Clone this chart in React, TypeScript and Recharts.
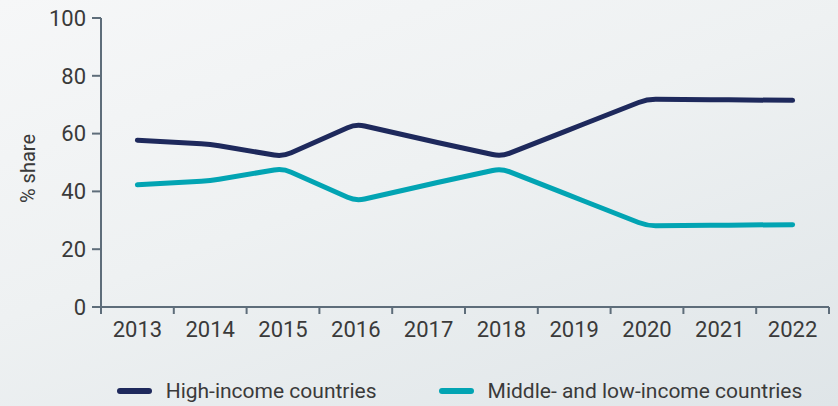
import React from 'react';
import { LineChart, Line, XAxis, YAxis, Legend } from 'recharts';

const years = ['2013', '2014', '2015', '2016', '2017', '2018', '2019', '2020', '2021', '2022'];
const highIncome = [57.7, 56.3, 52.1, 63.3, 57.6, 52.1, 62.0, 71.9, 71.7, 71.5];
const middleLowIncome = [42.3, 43.7, 47.9, 36.7, 42.4, 47.9, 38.0, 28.1, 28.3, 28.5];
const yTicks = [0, 20, 40, 60, 80, 100];
const seriesNames = ['High-income countries', 'Middle- and low-income countries'];

const data = years.map((y, i) => ({ year: y, high: highIncome[i], low: middleLowIncome[i] }));

const NAVY = '#1e295c';
const TEAL = '#02a4b3';
const AXIS = '#5e6d7a';
const TEXT = '#3a3a3a';
const FONT = 'Roboto, "Noto Sans", sans-serif';

// polyline with softly rounded corners (d3 curve-factory interface)
const roundedCurve = (radius: number) => (context: any) => {
  let pts: number[][] = [];
  return {
    areaStart() {},
    areaEnd() {},
    lineStart() {
      pts = [];
    },
    point(x: number, y: number) {
      pts.push([+x, +y]);
    },
    lineEnd() {
      if (!pts.length) return;
      context.moveTo(pts[0][0], pts[0][1]);
      for (let i = 1; i < pts.length - 1; i++) {
        const [x0, y0] = pts[i - 1];
        const [x1, y1] = pts[i];
        const [x2, y2] = pts[i + 1];
        const d1 = Math.hypot(x1 - x0, y1 - y0);
        const d2 = Math.hypot(x2 - x1, y2 - y1);
        if (d1 === 0 || d2 === 0) {
          context.lineTo(x1, y1);
          continue;
        }
        const r1 = Math.min(radius, d1 / 2);
        const r2 = Math.min(radius, d2 / 2);
        const ax = x1 - ((x1 - x0) / d1) * r1;
        const ay = y1 - ((y1 - y0) / d1) * r1;
        const bx = x1 + ((x2 - x1) / d2) * r2;
        const by = y1 + ((y2 - y1) / d2) * r2;
        context.lineTo(ax, ay);
        context.quadraticCurveTo(x1, y1, bx, by);
      }
      if (pts.length > 1) {
        const last = pts[pts.length - 1];
        context.lineTo(last[0], last[1]);
      }
    },
  };
};

const curve = roundedCurve(9);

const XTick = (props: any) => {
  const { x, y, payload, index, visibleTicksCount } = props;
  const half = payload && typeof payload.offset === 'number' ? payload.offset : 36.4;
  const isLast = index === visibleTicksCount - 1;
  return (
    <g>
      <line x1={x - half} x2={x - half} y1={y} y2={y + 7} stroke={AXIS} strokeWidth={2} />
      {isLast && <line x1={x + half} x2={x + half} y1={y} y2={y + 7} stroke={AXIS} strokeWidth={2} />}
      <text x={x} y={y + 29.5} textAnchor="middle" fill={TEXT} fontSize={22} fontFamily={FONT}>
        {payload.value}
      </text>
    </g>
  );
};

const YLabel = (props: any) => {
  const { viewBox } = props;
  const cx = viewBox.x + 28;
  const cy = viewBox.y + viewBox.height / 2 + 6;
  return (
    <text
      transform={`translate(${cx},${cy}) rotate(-90)`}
      textAnchor="middle"
      dominantBaseline="central"
      fill={TEXT}
      fontSize={20}
      fontFamily={FONT}
    >
      % share
    </text>
  );
};

const LegendContent = (props: any) => {
  const { payload } = props;
  return (
    <div
      style={{
        display: 'flex',
        justifyContent: 'center',
        alignItems: 'center',
        height: 30,
        paddingLeft: 81,
        boxSizing: 'border-box',
        fontFamily: FONT,
        fontSize: 21,
        color: TEXT,
      }}
    >
      {(payload || []).map((entry: any, i: number) => (
        <div key={i} style={{ display: 'flex', alignItems: 'center', marginLeft: i === 0 ? 0 : 62 }}>
          <span
            style={{
              display: 'inline-block',
              width: 35,
              height: 6,
              borderRadius: 3,
              background: entry.color,
              marginRight: 14,
            }}
          />
          <span style={{ whiteSpace: 'nowrap' }}>{entry.value}</span>
        </div>
      ))}
    </div>
  );
};

export default function App() {
  return (
    <div
      style={{
        position: 'absolute',
        left: 0,
        top: 0,
        width: 838,
        height: 406,
        background: 'linear-gradient(160deg, #f6f7f8 0%, #eef1f2 45%, #dfe5e8 100%)',
        overflow: 'hidden',
      }}
    >
      <LineChart width={838} height={406} data={data} margin={{ top: 18, right: 9, bottom: 0, left: 0 }}>
        <XAxis
          dataKey="year"
          scale="band"
          interval={0}
          tickLine={false}
          tickSize={0}
          tickMargin={0}
          height={69}
          axisLine={{ stroke: AXIS, strokeWidth: 2 }}
          tick={<XTick />}
        />
        <YAxis
          domain={[0, 100]}
          ticks={yTicks}
          width={101}
          tickSize={9}
          tickMargin={6}
          axisLine={{ stroke: AXIS, strokeWidth: 2 }}
          tickLine={{ stroke: AXIS, strokeWidth: 2 }}
          tick={{ fill: TEXT, fontSize: 22, fontFamily: FONT }}
          label={<YLabel />}
        />
        <Legend
          verticalAlign="bottom"
          height={30}
          wrapperStyle={{ left: 0, width: 838 }}
          content={<LegendContent />}
        />
        <Line
          type={curve as any}
          dataKey="high"
          name={seriesNames[0]}
          stroke={NAVY}
          strokeWidth={5}
          dot={false}
          activeDot={false}
          strokeLinecap="round"
          strokeLinejoin="round"
          isAnimationActive={false}
        />
        <Line
          type={curve as any}
          dataKey="low"
          name={seriesNames[1]}
          stroke={TEAL}
          strokeWidth={5}
          dot={false}
          activeDot={false}
          strokeLinecap="round"
          strokeLinejoin="round"
          isAnimationActive={false}
        />
      </LineChart>
    </div>
  );
}
